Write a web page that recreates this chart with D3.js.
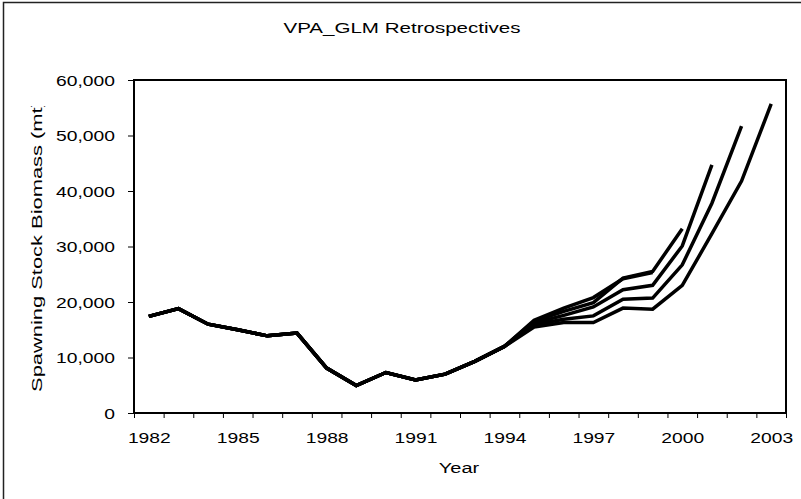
<!DOCTYPE html>
<html>
<head>
<meta charset="utf-8">
<script src="https://d3js.org/d3.v7.min.js"></script>
<style>
  body { margin: 0; background: #fff; }
  svg text { font-family: Arial, "Liberation Sans", sans-serif; fill: #000; }
  .axis .domain { stroke: none; }
  .axis line { stroke: #000; stroke-width: 1; }
</style>
</head>
<body>
<svg id="chart" width="801" height="499"></svg>
<script>
// years shared by every run, and the SSB they agree on
const baseYears = [1982, 1983, 1984, 1985, 1986, 1987, 1988, 1989, 1990, 1991, 1992, 1993, 1994];
const baseSSB = [17400, 18800, 16000, 15000, 13900, 14400, 8100, 4950, 7300, 5950, 7000, 9300, 12000];

// retrospective runs, from 1995 up to their terminal year
const tailYears = [1995, 1996, 1997, 1998, 1999, 2000, 2001, 2002, 2003];
const run2003 = [15500, 16300, 16300, 18900, 18700, 23000, 32300, 41800, 55700];
const run2002 = [15900, 16900, 17500, 20500, 20700, 26700, 37800, 51700];
const run2001 = [16200, 17600, 19100, 22200, 23000, 30100, 44700];
const run2000 = [16500, 18300, 19900, 24300, 25500, 33200];
const run1999 = [16700, 18900, 20800, 24200, 25300];

const xLabels = [1982, 1985, 1988, 1991, 1994, 1997, 2000, 2003];
const yTicks = [0, 10000, 20000, 30000, 40000, 50000, 60000];

const runs = [run2003, run2002, run2001, run2000, run1999].map(tail =>
  baseYears.map((y, i) => ({year: y, ssb: baseSSB[i]}))
    .concat(tail.map((v, i) => ({year: tailYears[i], ssb: v})))
);

const svg = d3.select('svg#chart');
const plot = {left: 134, right: 786, top: 80, bottom: 413};
const stretch = 1.33;   // the original text is drawn wide

// outer frame (runs off the right and bottom of the picture)
svg.append('rect')
  .attr('x', 3.5).attr('y', 2.5)
  .attr('width', 900).attr('height', 600)
  .attr('fill', 'none').attr('stroke', '#222').attr('stroke-width', 1.5);

const xScale = d3.scaleLinear().domain([1981.5, 2003.5]).range([plot.left, plot.right]);
const yScale = d3.scaleLinear().domain([0, 60000]).range([plot.bottom, plot.top]);

// y axis
svg.append('g')
  .attr('class', 'axis')
  .attr('transform', `translate(${plot.left},0)`)
  .call(d3.axisLeft(yScale).tickValues(yTicks).tickFormat(d3.format(',')).tickSize(6))
  .selectAll('text')
  .style('font-size', '14.5px')
  .attr('x', -19 / stretch)
  .attr('dy', '0.36em')
  .attr('transform', `scale(${stretch},1)`);

// x tick marks sit between the years
svg.append('g')
  .attr('class', 'axis')
  .attr('transform', `translate(0,${plot.bottom})`)
  .call(d3.axisBottom(xScale).tickValues(d3.range(1981.5, 2004, 1)).tickFormat('').tickSize(5));

svg.append('g')
  .attr('class', 'axis')
  .attr('transform', `translate(0,${plot.bottom})`)
  .call(d3.axisBottom(xScale).tickValues(xLabels).tickFormat(d3.format('d')).tickSize(0).tickPadding(20))
  .selectAll('text')
  .style('font-size', '14.5px')
  .attr('transform', `scale(${stretch},1)`);

// plot area box
svg.append('rect')
  .attr('x', plot.left).attr('y', plot.top)
  .attr('width', plot.right - plot.left).attr('height', plot.bottom - plot.top)
  .attr('fill', 'none').attr('stroke', '#000').attr('stroke-width', 2);

const line = d3.line()
  .x(d => xScale(d.year))
  .y(d => yScale(d.ssb));

svg.append('g').selectAll('path')
  .data(runs)
  .join('path')
  .attr('d', line)
  .attr('fill', 'none')
  .attr('stroke', '#000')
  .attr('stroke-width', 3.5)
  .attr('stroke-linejoin', 'miter');

// titles
svg.append('text')
  .attr('transform', `translate(402,33) scale(1.37,1)`)
  .attr('text-anchor', 'middle')
  .style('font-size', '15px')
  .text('VPA_GLM Retrospectives');

svg.append('text')
  .attr('transform', `translate(459,473) scale(${stretch},1)`)
  .attr('text-anchor', 'middle')
  .style('font-size', '15px')
  .text('Year');

// y title is clipped at the top like the original
svg.append('clipPath').attr('id', 'ytitle-clip')
  .append('rect').attr('x', 0).attr('y', 106).attr('width', 100).attr('height', 400);

svg.append('g')
  .attr('clip-path', 'url(#ytitle-clip)')
  .append('text')
  .attr('transform', 'translate(42,246) rotate(-90) scale(1.46,1)')
  .attr('text-anchor', 'middle')
  .style('font-size', '15px')
  .text('Spawning Stock Biomass (mt)');
</script>
</body>
</html>
